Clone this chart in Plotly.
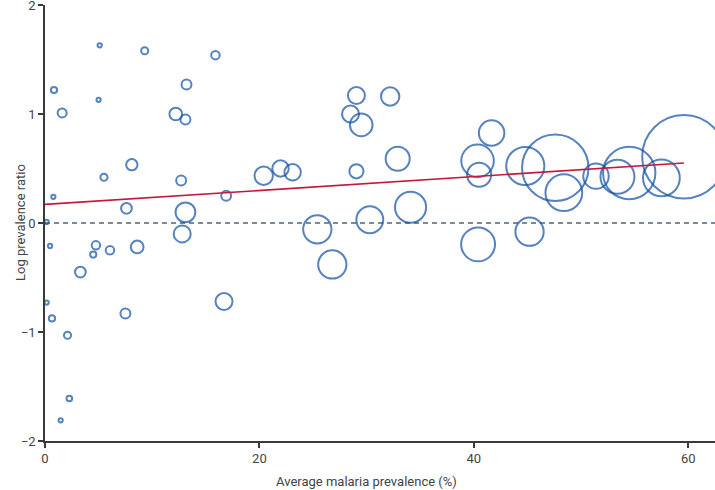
import plotly.graph_objects as go

# Average malaria prevalence (%) per study
prevalence = [5.1, 9.3, 15.9, 0.84, 13.2, 5.0, 1.6, 12.2, 13.1, 8.1, 5.5, 12.7, 0.78, 16.9,
              7.6, 13.1, 0.15, 12.8, 0.47, 4.75, 4.5, 6.06, 8.6, 3.3, 0.15, 0.65, 7.5, 16.7,
              2.1, 2.27, 1.46, 29.05, 32.2, 28.5, 29.5, 32.9, 20.4, 21.97, 23.1, 29.05, 34.1,
              30.3, 25.4, 26.8, 41.66, 40.35, 40.5, 44.8, 47.6, 48.4, 51.4, 53.4, 54.5, 57.5,
              59.6, 40.4, 45.2]
# Log prevalence ratio per study
log_ratio = [1.63, 1.58, 1.54, 1.22, 1.27, 1.13, 1.01, 1.00, 0.95, 0.535, 0.42, 0.39, 0.24, 0.25,
             0.135, 0.098, 0.01, -0.10, -0.21, -0.205, -0.29, -0.25, -0.22, -0.45, -0.73, -0.875,
             -0.83, -0.72, -1.03, -1.61, -1.81, 1.17, 1.16, 1.00, 0.90, 0.59, 0.434, 0.50, 0.465,
             0.474, 0.144, 0.03, -0.058, -0.38, 0.826, 0.57, 0.443, 0.523, 0.507, 0.278, 0.43,
             0.425, 0.459, 0.413, 0.608, -0.196, -0.08]
# Relative study weight (bubble area)
weight = [2.3, 6.3, 9, 4.8, 12.3, 2.3, 10.2, 20.3, 12.3, 16, 6.3, 12.3, 2.3, 12.3,
          14.4, 49, 2.3, 36, 2.3, 9, 4.8, 9, 20.3, 14.4, 2.3, 4.8, 12.3, 36,
          6.3, 4, 2.3, 36, 42.3, 36, 64, 72.3, 42.3, 33.6, 33.6, 25, 121,
          90.3, 100, 100, 81, 132.3, 72.3, 182.3, 552.3, 169, 81, 144, 342.3, 169,
          870.3, 144, 100]

# Meta-regression line (intercept, slope)
reg_intercept = 0.171
reg_slope = 0.00636

x_ticks = [0, 20, 40, 60]
y_ticks = [-2, -1, 0, 1, 2]
x_title = "Average malaria prevalence (%)"
y_title = "Log prevalence ratio"

FONT = "Roboto, Liberation Sans, sans-serif"
BLUE = "#0f50a3"
RED = "#c4183c"
AXIS = "#3a3a3a"
TXT = "#444444"

fig = go.Figure()

fig.add_trace(go.Scatter(
    x=prevalence, y=log_ratio, mode="markers",
    marker=dict(size=weight, sizemode="area", sizeref=0.25, sizemin=2,
                color="rgba(0,0,0,0)", line=dict(color=BLUE, width=2)),
    hoverinfo="x+y", showlegend=False, cliponaxis=False,
))

x_line = [0, max(prevalence)]
y_line = [reg_intercept + reg_slope * v for v in x_line]
fig.add_trace(go.Scatter(x=x_line, y=y_line, mode="lines",
                         line=dict(color=RED, width=1.6), showlegend=False))

fig.add_shape(type="line", xref="x", yref="y", x0=0, x1=62.5, y0=0, y1=0,
              line=dict(color="#4f6575", width=1.4, dash="5px,4px"), layer="below")

fig.update_layout(
    width=715, height=490,
    margin=dict(l=45, r=0, t=5, b=49),
    paper_bgcolor="white", plot_bgcolor="white",
    font=dict(family=FONT, size=13, color=TXT),
    xaxis=dict(range=[0, 62.5], tickvals=x_ticks, ticks="outside", ticklen=5, tickwidth=1.5,
               tickcolor=AXIS, showline=True, linecolor=AXIS, linewidth=1.5, automargin=False,
               showgrid=False, zeroline=False, tickfont=dict(size=13, color=TXT),
               ticklabeloverflow="allow"),
    yaxis=dict(range=[-2, 2], tickvals=y_ticks, ticks="outside", ticklen=5, tickwidth=1.5,
               tickcolor=AXIS, showline=True, linecolor=AXIS, linewidth=1.5, automargin=False,
               showgrid=False, zeroline=False, tickfont=dict(size=13, color=TXT),
               ticklabeloverflow="allow"),
    annotations=[
        dict(text=x_title, x=30, xref="x", y=0, yref="paper", yanchor="middle", yshift=-40,
             showarrow=False, font=dict(size=13, color=TXT)),
        dict(text=y_title, x=0, xref="paper", xanchor="center", xshift=-25, y=0.5, yref="paper",
             textangle=-90, showarrow=False, font=dict(size=13, color=TXT)),
    ],
)

fig.write_html("out.html", config={"displayModeBar": False},
               post_script="document.body.style.margin='0px';document.body.style.overflow='hidden';")
